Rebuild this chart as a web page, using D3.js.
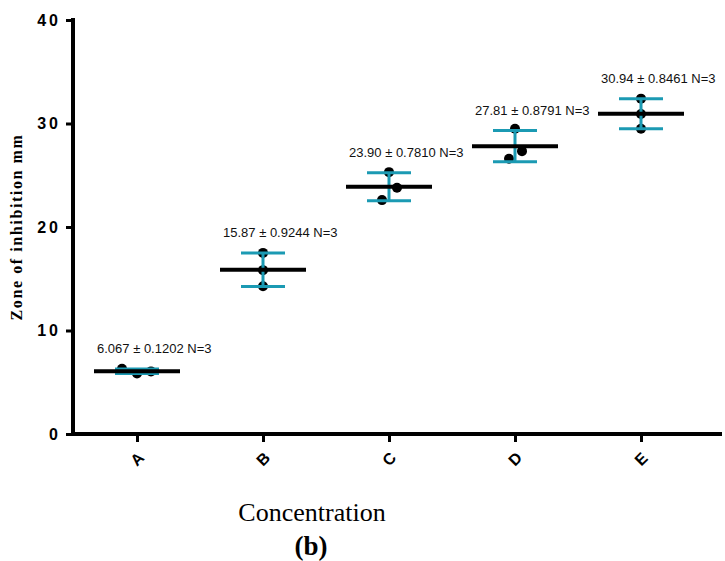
<!DOCTYPE html>
<meta charset="utf-8">
<script src="https://d3js.org/d3.v7.min.js"></script>
<style>
  body { margin: 0; background: #fff; }
</style>
<div id="my_dataviz"></div>
<script>

// groups and the three replicate readings of each
var groups = ["A", "B", "C", "D", "E"];
var replicates = [
  [6.30, 5.85, 6.05],
  [17.50, 15.83, 14.28],
  [25.30, 23.80, 22.60],
  [29.50, 27.33, 26.60],
  [32.40, 30.92, 29.50]
];
// jitter of the dots around the group centre (px)
var jitter = [
  [-15, 0, 14],
  [0, 0, 0],
  [0, 8, -7],
  [0, 7, -6],
  [0, 0, 0]
];
var meanLabels = ["6.067 ± 0.1202 N=3", "15.87 ± 0.9244 N=3", "23.90 ± 0.7810 N=3",
                  "27.81 ± 0.8791 N=3", "30.94 ± 0.8461 N=3"];
var yTicks = [0, 10, 20, 30, 40];

var width = 725, height = 561;

var svg = d3.select("#my_dataviz")
  .append("svg")
    .attr("width", width)
    .attr("height", height);

var x = d3.scalePoint()
  .domain(groups)
  .range([137, 641]);

var y = d3.scaleLinear()
  .domain([0, 40])
  .range([434, 20]);

// summary stats: mean and SD
var stats = replicates.map(function(v, i) {
  return { group: groups[i], mean: d3.mean(v), sd: d3.deviation(v), label: meanLabels[i] };
});

// Y axis
var yAxis = svg.append("g")
  .attr("transform", "translate(73,0)")
  .call(d3.axisLeft(y).tickValues(yTicks).tickSize(7).tickPadding(5));
yAxis.select(".domain").remove();
yAxis.selectAll(".tick line").attr("stroke", "#000").attr("stroke-width", 3);
yAxis.selectAll(".tick text")
  .attr("font-family", "Liberation Sans, Arial, sans-serif")
  .attr("font-weight", "bold")
  .attr("font-size", 16)
  .attr("letter-spacing", 3)
  .attr("fill", "#000");
svg.append("line")
  .attr("x1", 73).attr("x2", 73)
  .attr("y1", y(40) - 2).attr("y2", y(0) + 2)
  .attr("stroke", "#000").attr("stroke-width", 4);

// X axis
var xAxis = svg.append("g")
  .attr("transform", "translate(0," + y(0) + ")")
  .call(d3.axisBottom(x).tickSize(8).tickFormat(""));
xAxis.select(".domain").remove();
xAxis.selectAll(".tick line").attr("stroke", "#000").attr("stroke-width", 3);
svg.append("line")
  .attr("x1", 71).attr("x2", 722)
  .attr("y1", y(0)).attr("y2", y(0))
  .attr("stroke", "#000").attr("stroke-width", 4);

svg.selectAll(".xlab")
  .data(groups)
  .enter()
  .append("text")
    .attr("class", "xlab")
    .attr("transform", function(d) { return "translate(" + x(d) + ",459) rotate(-45)"; })
    .attr("text-anchor", "middle")
    .attr("dy", "0.35em")
    .attr("font-family", "Liberation Sans, Arial, sans-serif")
    .attr("font-weight", "bold")
    .attr("font-size", 16)
    .text(function(d) { return d; });

// axis titles
svg.append("text")
  .attr("transform", "translate(22,227) rotate(-90)")
  .attr("text-anchor", "middle")
  .attr("font-family", "Liberation Serif, Times New Roman, serif")
  .attr("font-weight", "bold")
  .attr("font-size", 16)
  .attr("letter-spacing", 1.6)
  .text("Zone of inhibition mm");

svg.append("text")
  .attr("x", 312).attr("y", 521)
  .attr("text-anchor", "middle")
  .attr("font-family", "Liberation Serif, Times New Roman, serif")
  .attr("font-size", 26)
  .text("Concentration");

svg.append("text")
  .attr("x", 311).attr("y", 555)
  .attr("text-anchor", "middle")
  .attr("font-family", "Liberation Serif, Times New Roman, serif")
  .attr("font-weight", "bold")
  .attr("font-size", 27)
  .text("(b)");

// dots
var dots = [];
replicates.forEach(function(v, i) {
  v.forEach(function(val, j) {
    dots.push({ group: groups[i], value: val, dx: jitter[i][j] });
  });
});
svg.selectAll(".dot")
  .data(dots)
  .enter()
  .append("circle")
    .attr("class", "dot")
    .attr("cx", function(d) { return x(d.group) + d.dx; })
    .attr("cy", function(d) { return y(d.value); })
    .attr("r", 5)
    .attr("fill", "#000");

var teal = "#1b9ab3";

// error bars (mean ± SD)
var eb = svg.selectAll(".eb")
  .data(stats)
  .enter()
  .append("g")
    .attr("class", "eb");
eb.append("line")
  .attr("x1", function(d) { return x(d.group); })
  .attr("x2", function(d) { return x(d.group); })
  .attr("y1", function(d) { return y(d.mean + d.sd); })
  .attr("y2", function(d) { return y(d.mean - d.sd); })
  .attr("stroke", teal).attr("stroke-width", 3);
eb.append("line")
  .attr("x1", function(d) { return x(d.group) - 22; })
  .attr("x2", function(d) { return x(d.group) + 22; })
  .attr("y1", function(d) { return y(d.mean + d.sd); })
  .attr("y2", function(d) { return y(d.mean + d.sd); })
  .attr("stroke", teal).attr("stroke-width", 3);
eb.append("line")
  .attr("x1", function(d) { return x(d.group) - 22; })
  .attr("x2", function(d) { return x(d.group) + 22; })
  .attr("y1", function(d) { return y(d.mean - d.sd); })
  .attr("y2", function(d) { return y(d.mean - d.sd); })
  .attr("stroke", teal).attr("stroke-width", 3);

// mean bars
eb.append("line")
  .attr("x1", function(d) { return x(d.group) - 43; })
  .attr("x2", function(d) { return x(d.group) + 43; })
  .attr("y1", function(d) { return y(d.mean); })
  .attr("y2", function(d) { return y(d.mean); })
  .attr("stroke", "#000").attr("stroke-width", 4);

// mean ± SEM labels
eb.append("text")
  .attr("x", function(d) { return x(d.group) - 40; })
  .attr("y", function(d) { return y(d.mean + d.sd) - 16; })
  .attr("font-family", "Liberation Sans, Arial, sans-serif")
  .attr("font-size", 13)
  .attr("fill", "#111")
  .text(function(d) { return d.label; });

</script>
